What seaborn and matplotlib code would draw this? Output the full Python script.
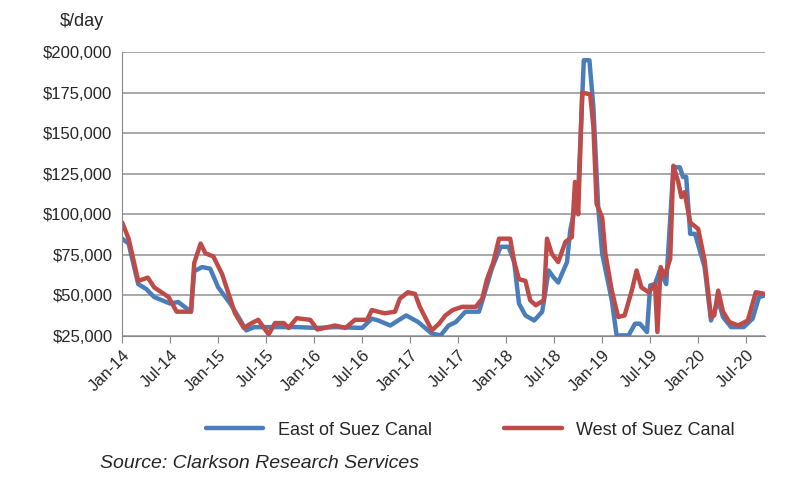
import matplotlib
matplotlib.use("Agg")
import matplotlib.pyplot as plt
import seaborn as sns
import pandas as pd

# months since Jan-14, values in $000/day
east_m = [0, 0.8, 2, 3, 4, 6, 7, 8.6, 9, 10, 11, 12, 13.5, 14.5, 15.5, 16.5, 21.8, 24.4, 26.6, 30, 31.2, 32,
          33.5, 35.5, 37, 38.7, 39.8, 40.8, 41.7, 42.9, 44.6, 45.4, 46.2, 47.3, 48.3, 49, 49.6, 50.4, 51.5,
          52.5, 53.3, 53.9, 54.5, 55.6, 56, 57, 57.7, 58.4, 58.9, 59.5, 60, 61.2, 61.8, 63.3, 64.1, 64.7,
          65.6, 66, 66.6, 67.2, 68, 68.9, 69.7, 70.1, 70.5, 71, 71.6, 72.8, 73.6, 74.5, 75.1, 76.1, 77.7,
          78.8, 79.6, 80.3]
east_v = [85, 82, 57, 54, 49, 45, 46, 40, 65, 67.5, 66.5, 55, 45, 37, 28.5, 30.5, 30.5, 30, 30.5, 30, 35.7, 34.6,
          31.5, 37.7, 33.6, 26.5, 25.4, 31.5, 33.6, 40, 40, 53, 66.5, 80, 80, 70.6, 45, 37.7, 34.6,
          40, 65.4, 61.3, 58, 70.6, 90, 113.7, 195, 195, 166, 104.5, 75.7, 47, 25.4, 25.4, 32.6, 32.6,
          27.5, 56.2, 57, 65.4, 57, 129, 129, 123, 123, 88, 88, 67.5, 34.6, 47, 36.7, 30.5, 30.5,
          35.7, 49, 50]
west_m = [0, 0.8, 2, 3.2, 4, 5.8, 6.8, 8.6, 9, 9.8, 10.4, 11.4, 12.5, 13.3, 14.1, 15.2, 16.2, 17, 18.3, 19.1,
          20.2, 20.8, 21.8, 23.5, 24.4, 26.6, 27.9, 29.1, 30.6, 31.2, 32.8, 34.1, 34.7, 35.7, 36.6, 37.2,
          38.7, 39.6, 40.4, 41.3, 42.5, 44.2, 45, 45.6, 46.4, 47.1, 48.5, 49, 49.6, 50.4, 51, 51.7, 52.7,
          53.1, 53.7, 54.5, 55.4, 56.2, 56.6, 57, 57.5, 58.5, 58.9, 59.3, 60, 60.4, 61.2, 62, 62.8, 63.7,
          64.3, 64.9, 65.8, 66.6, 66.9, 67.3, 67.8, 68.5, 68.9, 69.5, 69.9, 70.3, 71, 72, 72.8, 73.6, 74,
          74.5, 75.1, 75.9, 77, 78.2, 79.2, 80.3]
west_v = [95, 85, 59, 61, 55, 49, 40, 40, 70, 82, 76, 74, 63, 51, 39, 30, 33, 35, 26, 33,
          33, 30, 36, 35, 29, 31.5, 30, 35, 35, 41, 39, 40, 48, 52, 51, 43,
          28.5, 32.6, 37.7, 41, 43, 43, 48, 60, 70.6, 85, 85, 70.6, 60, 59, 47, 44, 47,
          85, 75.7, 70.6, 83, 86, 120, 100, 175, 174, 154, 106.5, 98, 75.7, 53, 36.7, 37.7, 53,
          65.4, 55, 52, 57, 27.5, 67.5, 62, 72.6, 130, 120, 110.6, 113.7, 95, 91, 71.6, 36.7, 37.7,
          53, 40, 33.6, 31.5, 34.6, 52, 51]
tick_labels = ["Jan-14", "Jul-14", "Jan-15", "Jul-15", "Jan-16", "Jul-16", "Jan-17",
               "Jul-17", "Jan-18", "Jul-18", "Jan-19", "Jul-19", "Jan-20", "Jul-20"]

df = pd.concat([
    pd.DataFrame({"month": east_m, "rate": [v * 1000 for v in east_v], "series": "East of Suez Canal"}),
    pd.DataFrame({"month": west_m, "rate": [v * 1000 for v in west_v], "series": "West of Suez Canal"}),
])

sns.set_style("white")
plt.rcParams["font.family"] = ["Liberation Sans", "DejaVu Sans"]

fig = plt.figure(figsize=(8.04, 4.78), dpi=100)
ax = fig.add_axes([0.152, 0.297, 0.799, 0.594])
sns.lineplot(data=df, x="month", y="rate", hue="series", sort=False,
             palette=["#4a7ebb", "#be4b48"], linewidth=3.2, ax=ax, legend=False)

ax.set_xlim(0, 80.3)
ax.set_ylim(25000, 200000)
ax.set_yticks(range(25000, 200001, 25000))
ax.set_yticklabels(["${:,}".format(v) for v in range(25000, 200001, 25000)], fontsize=12)
ax.set_xticks(range(0, 79, 6))
ax.set_xticklabels(tick_labels, rotation=45, ha="right", rotation_mode="anchor", fontsize=12)
ax.tick_params(axis="x", length=5, color="#888888", direction="out", bottom=True)
ax.yaxis.grid(True, color="#999999", linewidth=1.2)
ax.set_xlabel("")
ax.set_ylabel("")
for s in ["top", "right"]:
    ax.spines[s].set_visible(False)
ax.spines["left"].set_color("#888888")
ax.spines["bottom"].set_color("#888888")

fig.text(0.075, 0.945, "$/day", fontsize=13)
from matplotlib.lines import Line2D
handles = [Line2D([], [], color="#4a7ebb", lw=3.2), Line2D([], [], color="#be4b48", lw=3.2)]
fig.legend(handles, ["East of Suez Canal", "West of Suez Canal"], loc="center", ncol=2,
           bbox_to_anchor=(0.585, 0.1), frameon=False, fontsize=13, handlelength=3.2, columnspacing=4)
fig.text(0.125, 0.02, "Source: Clarkson Research Services", fontsize=14, style="italic")

fig.savefig("out.png", dpi=100)
